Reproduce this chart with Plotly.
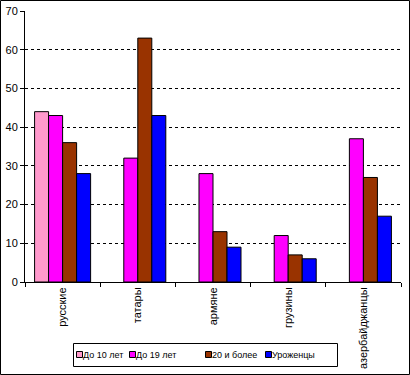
import plotly.graph_objects as go

categories = ["русские", "татары", "армяне", "грузины", "азербайджанцы"]
series_names = ["До 10 лет", "До 19 лет", "20 и более", "Уроженцы"]
do10 = [44, None, None, None, None]
do19 = [43, 32, 28, 12, 37]
over20 = [36, 63, 13, 7, 27]
native = [28, 43, 9, 6, 17]
y_ticks = [0, 10, 20, 30, 40, 50, 60, 70]

colors = ["#FF99CC", "#FF00FF", "#993300", "#0000FF"]
values = [do10, do19, over20, native]

fig = go.Figure()
for name, vals, c in zip(series_names, values, colors):
    fig.add_trace(go.Bar(x=categories, y=vals, name=name, showlegend=False,
                         marker=dict(color=c, line=dict(color="black", width=1))))

W, H = 410, 375
L, R, T, B = 25, 9, 11, 93
pw, ph = W - L - R, H - T - B


def px(x):
    return (x - L) / pw


def py(y):
    return (T + ph - y) / ph


shapes = [
    # outer chart border
    dict(type="rect", xref="paper", yref="paper",
         x0=px(0.5), x1=px(W - 0.5), y0=py(H - 0.5), y1=py(0.5),
         line=dict(color="black", width=1), layer="above"),
    # legend box
    dict(type="rect", xref="paper", yref="paper",
         x0=px(73.5), x1=px(337.5), y0=py(366.5), y1=py(343.5),
         line=dict(color="black", width=1), fillcolor="white", layer="above"),
]
annotations = []
legend_x = [76, 129, 205, 265]
for name, c, lx in zip(series_names, colors, legend_x):
    shapes.append(dict(type="rect", xref="paper", yref="paper",
                       x0=px(lx + 0.5), x1=px(lx + 6.5), y0=py(357.5), y1=py(351.5),
                       line=dict(color="black", width=1), fillcolor=c, layer="above"))
    annotations.append(dict(text=name, xref="paper", yref="paper",
                            x=px(lx + 7), y=py(355), xanchor="left", yanchor="middle",
                            showarrow=False, borderpad=0, borderwidth=0,
                            font=dict(size=9, color="black")))

fig.update_layout(
    width=W, height=H, autosize=False,
    margin=dict(l=L, r=R, t=T, b=B, pad=0, autoexpand=False),
    paper_bgcolor="white", plot_bgcolor="white",
    barmode="group", bargap=0.255, bargroupgap=0,
    font=dict(family="Liberation Sans, Arial, sans-serif", size=11, color="black"),
    showlegend=False,
    shapes=shapes, annotations=annotations,
)
fig.update_yaxes(range=[0, 70], tickvals=y_ticks, showgrid=True,
                 gridcolor="black", griddash="3px,3px", gridwidth=1,
                 showline=True, linecolor="black", linewidth=1,
                 ticks="outside", ticklen=4, tickcolor="black",
                 zeroline=False, fixedrange=True, automargin=False)
fig.update_xaxes(showline=True, linecolor="black", linewidth=1,
                 ticks="outside", ticklen=4, tickcolor="black",
                 tickson="boundaries", tickangle=-90, showgrid=False,
                 fixedrange=True, automargin=False)

fig.write_html("out.html", config={"displayModeBar": False},
               post_script="document.body.style.margin='0';document.body.style.padding='0';")
